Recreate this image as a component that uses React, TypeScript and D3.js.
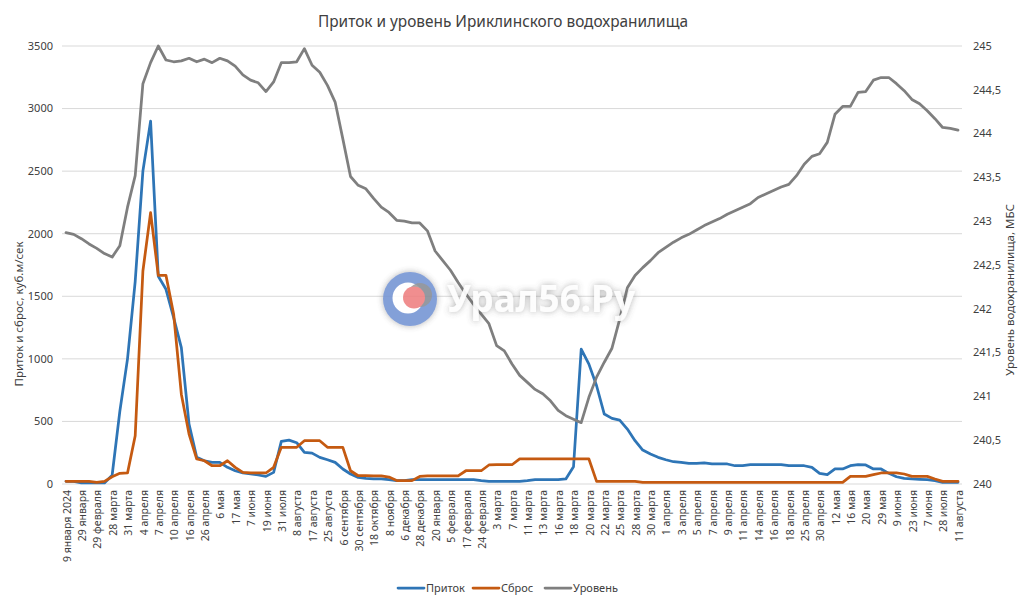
import { FC } from 'react';
import * as d3 from 'd3';

// tick labels (every second category is labelled on the axis)
const dateLabels = [
  '9 января 2024', '29 января', '29 февраля', '28 марта', '31 марта', '4 апреля', '7 апреля',
  '10 апреля', '16 апреля', '26 апреля', '6 мая', '17 мая', '7 июня', '19 июня', '31 июля',
  '8 августа', '17 августа', '25 августа', '6 сентября', '30 сентября', '18 октября', '8 ноября',
  '6 декабря', '28 декабря', '20 января', '5 февраля', '17 февраля', '24 февраля', '3 марта',
  '7 марта', '11 марта', '13 марта', '16 марта', '18 марта', '20 марта', '22 марта', '25 марта',
  '28 марта', '30 марта', '1 апреля', '3 апреля', '5 апреля', '7 апреля', '9 апреля', '11 апреля',
  '14 апреля', '16 апреля', '18 апреля', '25 апреля', '30 апреля', '12 мая', '16 мая', '20 мая',
  '29 мая', '9 июня', '23 июня', '7 июня', '28 июля', '11 августа'
];

// Приток, куб.м/сек
const inflow = [
  21, 21, 8, 8, 8, 8, 70, 580, 1000, 1620, 2500, 2900, 1660, 1556, 1330, 1090, 479, 213, 186, 173,
  173, 133, 106, 88, 80, 72, 61, 93, 340, 351, 330, 253, 247, 213, 194, 173, 120, 80, 53, 45,
  40, 40, 35, 27, 27, 35, 35, 35, 35, 35, 35, 35, 35, 35, 27, 21, 21, 21, 21, 21,
  27, 35, 35, 35, 35, 40, 138, 1077, 958, 785, 559, 524, 511, 439, 346, 271, 239, 213, 194, 178,
  173, 165, 165, 168, 160, 160, 160, 146, 146, 154, 154, 154, 154, 154, 146, 146, 146, 133, 85, 75,
  120, 120, 146, 154, 152, 120, 120, 85, 58, 45, 40, 37, 35, 27, 13, 13, 13
];

// Сброс, куб.м/сек
const outflow = [
  21, 21, 21, 21, 13, 21, 58, 85, 88, 386, 1702, 2168, 1668, 1668, 1357, 718, 399, 200, 186, 146,
  146, 186, 133, 93, 88, 88, 88, 133, 293, 293, 293, 346, 346, 346, 293, 293, 293, 106, 66, 66,
  65, 65, 55, 27, 27, 27, 60, 65, 65, 65, 65, 65, 106, 106, 106, 152, 154, 154, 154, 200,
  200, 200, 200, 200, 200, 200, 200, 200, 200, 21, 21, 21, 21, 21, 21, 13, 13, 13, 13, 13,
  13, 13, 13, 13, 13, 13, 13, 13, 13, 13, 13, 13, 13, 13, 13, 13, 13, 13, 13, 13,
  13, 13, 61, 61, 61, 75, 88, 88, 88, 80, 61, 61, 61, 40, 21, 21, 21
];

// Уровень, м БС
const level = [
  242.87, 242.85, 242.80, 242.74, 242.69, 242.63, 242.59, 242.72, 243.16, 243.52,
  244.57, 244.81, 245.00, 244.84, 244.82, 244.83, 244.86, 244.82, 244.85, 244.81,
  244.86, 244.83, 244.77, 244.67, 244.61, 244.58, 244.48, 244.59, 244.81, 244.81,
  244.82, 244.97, 244.78, 244.70, 244.55, 244.36, 243.94, 243.51, 243.41, 243.37,
  243.26, 243.16, 243.10, 243.01, 243.00, 242.98, 242.98, 242.89, 242.66, 242.55,
  242.44, 242.30, 242.17, 242.05, 241.94, 241.83, 241.58, 241.52, 241.37, 241.24,
  241.16, 241.08, 241.03, 240.95, 240.84, 240.78, 240.74, 240.70, 240.99, 241.22,
  241.39, 241.55, 241.88, 242.24, 242.38, 242.47, 242.55, 242.64, 242.70, 242.76,
  242.81, 242.85, 242.90, 242.95, 242.99, 243.03, 243.08, 243.12, 243.16, 243.20,
  243.27, 243.31, 243.35, 243.39, 243.42, 243.52, 243.65, 243.74, 243.77, 243.90,
  244.22, 244.31, 244.31, 244.47, 244.48, 244.61, 244.64, 244.64, 244.57, 244.49,
  244.39, 244.34, 244.26, 244.17, 244.07, 244.06, 244.04
];

const leftTicks = [0, 500, 1000, 1500, 2000, 2500, 3000, 3500];
const rightTicks = [240, 240.5, 241, 241.5, 242, 242.5, 243, 243.5, 244, 244.5, 245];

const seriesNames = ['Приток', 'Сброс', 'Уровень'];
const colors = ['#2E75B6', '#C55A11', '#7F7F7F'];

const W = 1024;
const H = 599;
const font = '"Noto Sans", "Open Sans", sans-serif';

const App: FC = () => {
  const n = inflow.length;
  const x = d3.scaleLinear().domain([0, n - 1]).range([66, 958]);
  const yL = d3.scaleLinear().domain([0, 3500]).range([484, 46]);
  const yR = d3.scaleLinear().domain([240, 245]).range([484, 46]);

  const lineL = d3.line<number>().x((_, i) => x(i)).y(d => yL(d));
  const lineR = d3.line<number>().x((_, i) => x(i)).y(d => yR(d));

  const fmtR = (v: number) => String(v).replace('.', ',');

  const legendX = [398, 473, 545];

  return (
    <div style={{ position: 'absolute', left: 0, top: 0 }}>
      <svg width={W} height={H} viewBox={`0 0 ${W} ${H}`} style={{ display: 'block', background: '#fff' }}>
        <defs>
          <filter id="glow" x="-20%" y="-40%" width="140%" height="180%">
            <feGaussianBlur in="SourceAlpha" stdDeviation="3" result="b" />
            <feFlood floodColor="#555" floodOpacity="0.5" />
            <feComposite in2="b" operator="in" result="s" />
            <feMerge>
              <feMergeNode in="s" />
              <feMergeNode in="SourceGraphic" />
            </feMerge>
          </filter>
        </defs>

        <text x={503} y={27} textAnchor="middle" fontFamily={font} fontSize={15.4} fill="#404040">
          Приток и уровень Ириклинского водохранилища
        </text>

        {/* gridlines */}
        {leftTicks.map(t => (
          <line key={t} x1={62} x2={962} y1={yL(t)} y2={yL(t)} stroke="#D9D9D9" strokeWidth={1} />
        ))}

        {/* left ticks */}
        {leftTicks.map(t => (
          <text key={t} x={53} y={yL(t)} dy="0.35em" textAnchor="end" fontFamily={font} fontSize={11} fill="#404040">
            {t}
          </text>
        ))}

        {/* right ticks */}
        {rightTicks.map(t => (
          <text key={t} x={973} y={yR(t)} dy="0.35em" textAnchor="start" fontFamily={font} fontSize={11} fill="#404040">
            {fmtR(t)}
          </text>
        ))}

        {/* x labels */}
        {dateLabels.map((lab, k) => (
          <text
            key={k}
            transform={`translate(${x(k * 2) + 1},490) rotate(-90)`}
            textAnchor="end"
            dy="0.35em"
            fontFamily={font}
            fontSize={10.5}
            fill="#404040"
          >
            {lab}
          </text>
        ))}

        {/* axis titles */}
        <text transform="translate(19,314) rotate(-90)" textAnchor="middle" dy="0.35em" fontFamily={font} fontSize={11.5} fill="#404040">
          Приток и сброс, куб.м/сек
        </text>
        <text transform="translate(1010,290) rotate(-90)" textAnchor="middle" dy="0.35em" fontFamily={font} fontSize={11.5} fill="#404040">
          Уровень водохранилища, МБС
        </text>

        {/* series */}
        <path d={lineL(inflow) ?? ''} fill="none" stroke={colors[0]} strokeWidth={2.75} strokeLinejoin="round" strokeLinecap="round" />
        <path d={lineL(outflow) ?? ''} fill="none" stroke={colors[1]} strokeWidth={2.75} strokeLinejoin="round" strokeLinecap="round" />
        <path d={lineR(level) ?? ''} fill="none" stroke={colors[2]} strokeWidth={2.75} strokeLinejoin="round" strokeLinecap="round" />

        {/* legend */}
        {seriesNames.map((s, i) => (
          <g key={s}>
            <line x1={legendX[i]} x2={legendX[i] + 26} y1={588} y2={588} stroke={colors[i]} strokeWidth={2.75} strokeLinecap="round" />
            <text x={legendX[i] + 28} y={588} dy="0.35em" fontFamily={font} fontSize={11} fill="#404040">
              {s}
            </text>
          </g>
        ))}

        {/* watermark */}
        <g opacity={0.88}>
          <circle cx={410} cy={299} r={27} fill="#7393D3" filter="url(#glow)" />
          <circle cx={408} cy={298} r={15.5} fill="#fff" />
          <circle cx={420} cy={295} r={12} fill="#8A8A8A" opacity={0.85} />
          <circle cx={414} cy={297.5} r={11} fill="#EE7F80" />
        </g>
        <text
          x={447}
          y={312}
          fontFamily={font}
          fontWeight="bold"
          fontSize={38}
          textLength={188}
          lengthAdjust="spacingAndGlyphs"
          fill="#fff"
          fillOpacity={0.92}
          filter="url(#glow)"
        >
          Урал56.Ру
        </text>
      </svg>
    </div>
  );
};

export default App;
